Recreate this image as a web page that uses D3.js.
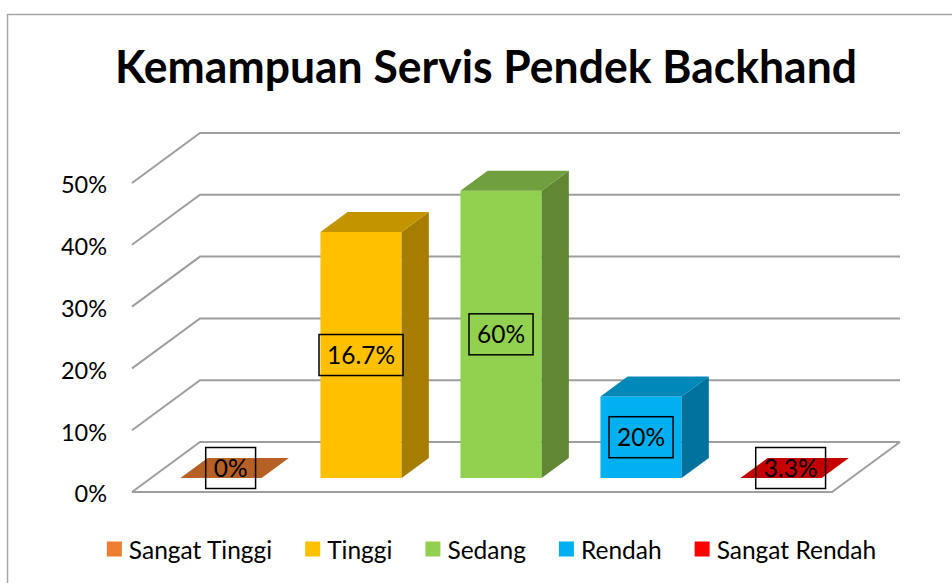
<!DOCTYPE html>
<html lang="id">
<head>
<meta charset="utf-8">
<title>Kemampuan Servis Pendek Backhand</title>
<script src="https://d3js.org/d3.v7.min.js"></script>
<style>
  body { margin: 0; background: #fff; }
  text { font-family: Lato, "Open Sans", sans-serif; fill: #000; }
</style>
</head>
<body>
<script>
// data
const categories = ["Sangat Tinggi", "Tinggi", "Sedang", "Rendah", "Sangat Rendah"];
const values = [0, 39.8, 46.5, 13.2, 0];            // bar heights in %
const dataLabels = ["0%", "16.7%", "60%", "20%", "3.3%"]; // labels as typed on the chart
const colors = ["#ED7D31", "#FFC000", "#92D050", "#00B0F0", "#FF0000"];
const yTicks = [0, 10, 20, 30, 40, 50];

const w = 952, h = 583;

const svg = d3.select("body").append("svg")
  .attr("width", w)
  .attr("height", h);

// chart border (runs off right/bottom)
svg.append("rect")
  .attr("x", 7.5).attr("y", 14.5)
  .attr("width", w + 20).attr("height", h + 20)
  .attr("fill", "none")
  .attr("stroke", "#a6a6a6")
  .attr("stroke-width", 1.5);

// title
svg.append("text")
  .attr("x", 486).attr("y", 83)
  .attr("text-anchor", "middle")
  .attr("font-size", "46px")
  .attr("font-weight", "bold")
  .attr("textLength", 742)
  .attr("lengthAdjust", "spacingAndGlyphs")
  .text("Kemampuan Servis Pendek Backhand");

// 3D frame: front plane + depth vector
const left = 132, right = 832;
const depthX = 68, depthY = -50;
const zFront = 0.28, zBack = 0.68; // bar position inside depth

const xScale = d3.scaleBand()
  .domain(categories)
  .range([left, right])
  .paddingInner(0.42)
  .paddingOuter(0.21);

const yScale = d3.scaleLinear()
  .domain([0, 50])
  .range([492, 183]);

function proj(x, v, z) {
  return [x + depthX * z, yScale(v) + depthY * z];
}

// gridlines: left wall + back wall
const grid = svg.append("g");
yTicks.forEach(t => {
  const pts = [proj(left, t, 0), proj(left, t, 1), proj(right, t, 1)];
  grid.append("path")
    .attr("d", d3.line()(pts))
    .attr("fill", "none")
    .attr("stroke", "#9e9e9e")
    .attr("stroke-width", 2);
});
// floor front and right edges
grid.append("path")
  .attr("d", d3.line()([proj(left, 0, 0), proj(right, 0, 0), proj(right, 0, 1)]))
  .attr("fill", "none")
  .attr("stroke", "#9e9e9e")
  .attr("stroke-width", 2);

// y axis labels
svg.append("g").selectAll("text")
  .data(yTicks)
  .join("text")
  .attr("x", 107)
  .attr("y", d => yScale(d) + 2)
  .attr("dy", "0.36em")
  .attr("text-anchor", "end")
  .attr("font-size", "23.5px")
  .text(d => d + "%");

function shade(c, f) {
  const r = d3.rgb(c);
  return d3.rgb(r.r * f, r.g * f, r.b * f).formatHex();
}

// bars
const bars = svg.append("g");
categories.forEach((c, i) => {
  const v = values[i];
  const xl = xScale(c), xr = xl + xScale.bandwidth();
  const g = bars.append("g");
  if (v > 0) {
    g.append("path")
      .attr("d", d3.line()([proj(xl, 0, zFront), proj(xr, 0, zFront), proj(xr, v, zFront), proj(xl, v, zFront)]) + "Z")
      .attr("fill", colors[i]);
    g.append("path")
      .attr("d", d3.line()([proj(xr, 0, zFront), proj(xr, 0, zBack), proj(xr, v, zBack), proj(xr, v, zFront)]) + "Z")
      .attr("fill", shade(colors[i], 0.65));
  }
  g.append("path")
    .attr("d", d3.line()([proj(xl, v, zFront), proj(xr, v, zFront), proj(xr, v, zBack), proj(xl, v, zBack)]) + "Z")
    .attr("fill", shade(colors[i], 0.77));
});

// data labels with boxes
const labels = svg.append("g");
categories.forEach((c, i) => {
  const v = values[i];
  const cx = xScale(c) + xScale.bandwidth() / 2;
  let p;
  if (v > 0) {
    p = proj(cx, v / 2, zFront);
  } else {
    p = proj(cx - 4, 0, (zFront + zBack) / 2);
  }
  const t = labels.append("text")
    .attr("x", p[0]).attr("y", p[1])
    .attr("dy", "0.36em")
    .attr("text-anchor", "middle")
    .attr("font-size", "24.5px")
    .text(dataLabels[i]);
  const tw = t.node().getComputedTextLength();
  labels.insert("rect", "text")
    .attr("x", p[0] - tw / 2 - 8)
    .attr("y", p[1] - 20.5)
    .attr("width", tw + 16)
    .attr("height", 41)
    .attr("fill", "none")
    .attr("stroke", "#000")
    .attr("stroke-width", 1.5);
});

// legend
const legend = svg.append("g");
let lx = 0;
categories.forEach((c, i) => {
  const item = legend.append("g").attr("transform", "translate(" + lx + ",0)");
  item.append("rect")
    .attr("x", 0).attr("y", -7.5)
    .attr("width", 15).attr("height", 15)
    .attr("fill", colors[i]);
  const t = item.append("text")
    .attr("x", 22).attr("y", 1)
    .attr("dy", "0.36em")
    .attr("font-size", "24.5px")
    .text(c);
  lx += 22 + t.node().getComputedTextLength() + 33;
});
const legendW = lx - 33;
legend.attr("transform", "translate(" + (491.5 - legendW / 2) + ",549)");
</script>
</body>
</html>
